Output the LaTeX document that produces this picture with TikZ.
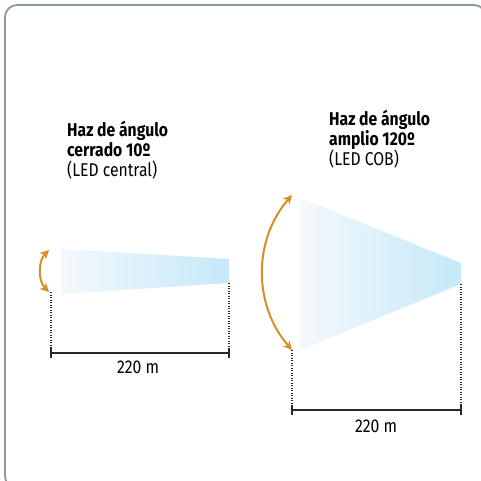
\documentclass[tikz,border=0pt]{standalone}
\usepackage{fontspec}
\setmainfont[FakeStretch=0.85]{Fira Sans}
\usetikzlibrary{arrows.meta}
\definecolor{arcorange}{RGB}{214,143,35}
\definecolor{beamblue}{RGB}{196,233,248}
\definecolor{beammid}{RGB}{196,226,246}
\definecolor{beamleft}{RGB}{244,248,253}
\definecolor{dimgray}{RGB}{40,40,40}
\definecolor{framegray}{RGB}{140,151,164}
\begin{document}
\begin{tikzpicture}[x=1pt,y=-1pt,
  title/.style={anchor=base west, inner sep=0pt, font=\fontsize{18.5}{20}\selectfont\bfseries},
  sub/.style={anchor=base west, inner sep=0pt, font=\fontsize{18.5}{20}\selectfont},
  dimlabel/.style={anchor=base, inner sep=0pt, font=\fontsize{18.5}{20}\selectfont},
  dotline/.style={dimgray, line width=1.4pt, dash pattern=on 1.3pt off 1.2pt},
  dimline/.style={dimgray, line width=2.8pt},
  dimtick/.style={dimgray, line width=2.4pt},
  angarc/.style={arcorange, line width=2pt, {Stealth[length=9pt,width=9pt]}-{Stealth[length=9pt,width=9pt]}},
  beam/.style={left color=beamleft, middle color=beammid, right color=beamblue, draw=none},
]
\useasboundingbox (0,0) rectangle (481,481);
\fill[white] (0,0) rectangle (481,481);
\begin{scope}
  \clip (0,0) rectangle (481,481);
  \draw[framegray, line width=1.8pt, rounded corners=12pt] (5,5) rectangle (486,488);
\end{scope}

% left beam
\shade[beam] (61,249) -- (229,259) -- (229,283) -- (61,294) -- cycle;
\coordinate (la) at (49,292);
\coordinate (lb) at (49,250);
\draw[angarc] (la) .. controls (38,281) and (38,261) .. (lb);
\coordinate (l1) at (51,292);
\coordinate (l2) at (51,353);
\coordinate (r1) at (229,283);
\coordinate (r2) at (229,353);
\draw[dotline] (l1) -- (l2);
\draw[dotline] (r1) -- (r2);
\draw[dimline] (l2) -- (r2);
\draw[dimtick] (51,348) -- (51,358);
\draw[dimtick] (229,348) -- (229,358);
\node[dimlabel] (ld) at (138,373) {220 m};
\node[title] (lt1) at (67,137) {Haz de ángulo};
\node[title] (lt2) at (67,156.5) {cerrado 10º};
\node[sub] (lt3) at (67,176) {(LED central)};

% right beam
\shade[beam] (300,198) -- (461,263) -- (461,284) -- (300,350) -- cycle;
\coordinate (ra) at (292,350);
\coordinate (rb) at (292,195);
\draw[angarc] (ra) .. controls (253,305) and (253,240) .. (rb);
\coordinate (m1) at (292,350);
\coordinate (m2) at (292,410);
\coordinate (n1) at (461,284);
\coordinate (n2) at (461,410);
\draw[dotline] (m1) -- (m2);
\draw[dotline] (n1) -- (n2);
\draw[dimline] (m2) -- (n2);
\draw[dimtick] (292,405) -- (292,415);
\draw[dimtick] (461,405) -- (461,415);
\node[dimlabel] (rd) at (376,432) {220 m};
\node[title] (rt1) at (329,126) {Haz de ángulo};
\node[title] (rt2) at (329,145.5) {amplio 120º};
\node[sub] (rt3) at (329,165) {(LED COB)};
\end{tikzpicture}
\end{document}
